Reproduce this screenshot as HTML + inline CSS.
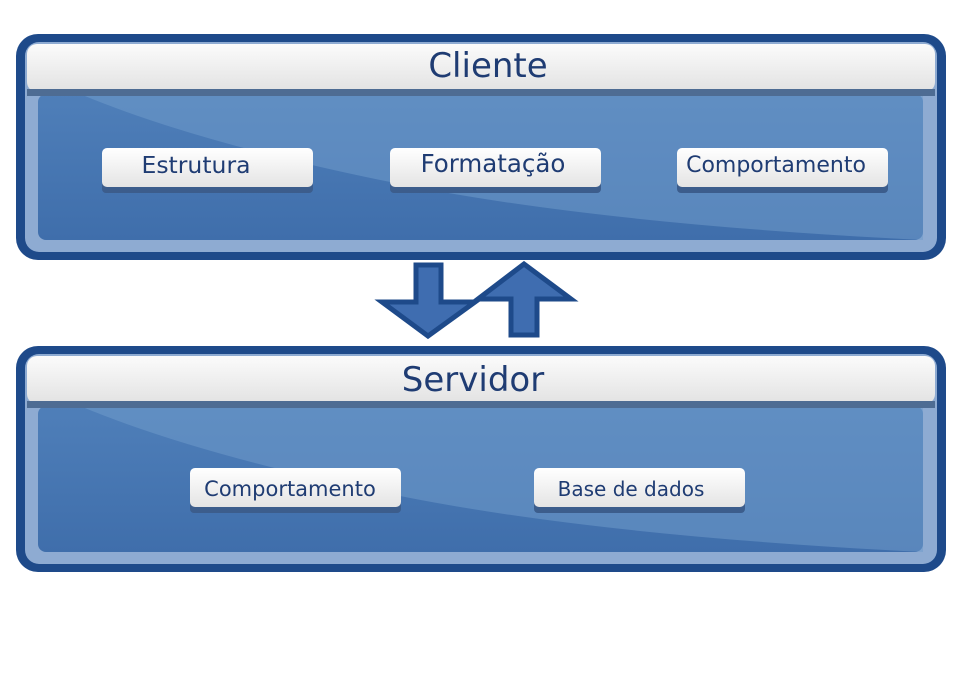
<!DOCTYPE html>
<html><head><meta charset="utf-8"><style>
html,body{margin:0;padding:0;background:#fff;}
svg{display:block;}
text{font-family:"DejaVu Sans","Liberation Sans",sans-serif;fill:#1f3c73;}
</style></head><body>
<svg width="960" height="679" viewBox="0 0 960 679" xmlns="http://www.w3.org/2000/svg">
<defs>
<linearGradient id="hdr" x1="0" y1="0" x2="0" y2="1">
<stop offset="0" stop-color="#fbfbfb"/><stop offset="1" stop-color="#e2e2e2"/>
</linearGradient>
<linearGradient id="btn" x1="0" y1="0" x2="0" y2="1">
<stop offset="0" stop-color="#ffffff"/><stop offset="1" stop-color="#e4e4e4"/>
</linearGradient>
<linearGradient id="pan" x1="0" y1="0" x2="0" y2="1">
<stop offset="0" stop-color="#4f7fb9"/><stop offset="1" stop-color="#3f6eab"/>
</linearGradient>
<g id="box">
<rect x="16" y="0" width="930" height="226" rx="22" fill="#1e4a8a"/>
<rect x="25" y="8" width="912" height="210" rx="14" fill="#8eabd2"/>
<rect x="38" y="60" width="885" height="146" rx="8" fill="url(#pan)"/>
<path d="M80 60 L923 60 L923 206 Q600 190 400 150 Q200 110 80 60 Z" fill="#6f9acb" opacity="0.55"/>
<rect x="27" y="10" width="908" height="48" rx="10" fill="url(#hdr)"/>
<rect x="27" y="55" width="908" height="7" fill="#4e6c93"/>
</g>
<g id="b">
<rect x="0" y="6" width="211" height="39" rx="4" fill="#3c5d8c"/>
<rect x="0" y="0" width="211" height="39" rx="5" fill="url(#btn)"/>
</g>
</defs>
<use href="#box" y="34"/>
<use href="#box" y="346"/>
<text x="488" y="77" font-size="34" text-anchor="middle">Cliente</text>
<text x="473" y="391" font-size="34" text-anchor="middle">Servidor</text>

<use href="#b" x="102" y="148"/>
<use href="#b" x="390" y="148"/>
<use href="#b" x="677" y="148"/>
<use href="#b" x="190" y="468"/>
<use href="#b" x="534" y="468"/>
<text x="196" y="173" font-size="23.5" text-anchor="middle">Estrutura</text>
<text x="493" y="172" font-size="24.5" text-anchor="middle">Formatação</text>
<text x="776" y="172" font-size="22" text-anchor="middle">Comportamento</text>
<text x="290" y="496" font-size="21" text-anchor="middle">Comportamento</text>
<text x="631" y="496" font-size="20" text-anchor="middle">Base de dados</text>

<path d="M416 265 L441 265 L441 302 L475 302 L428 336 L382 302 L416 302 Z" fill="#3f6db0" stroke="#1e4a8a" stroke-width="5" stroke-linejoin="miter"/>
<path d="M511 335 L537 335 L537 299 L571 299 L524 264 L478 299 L511 299 Z" fill="#3f6db0" stroke="#1e4a8a" stroke-width="5" stroke-linejoin="miter"/>
</svg>
</body></html>
